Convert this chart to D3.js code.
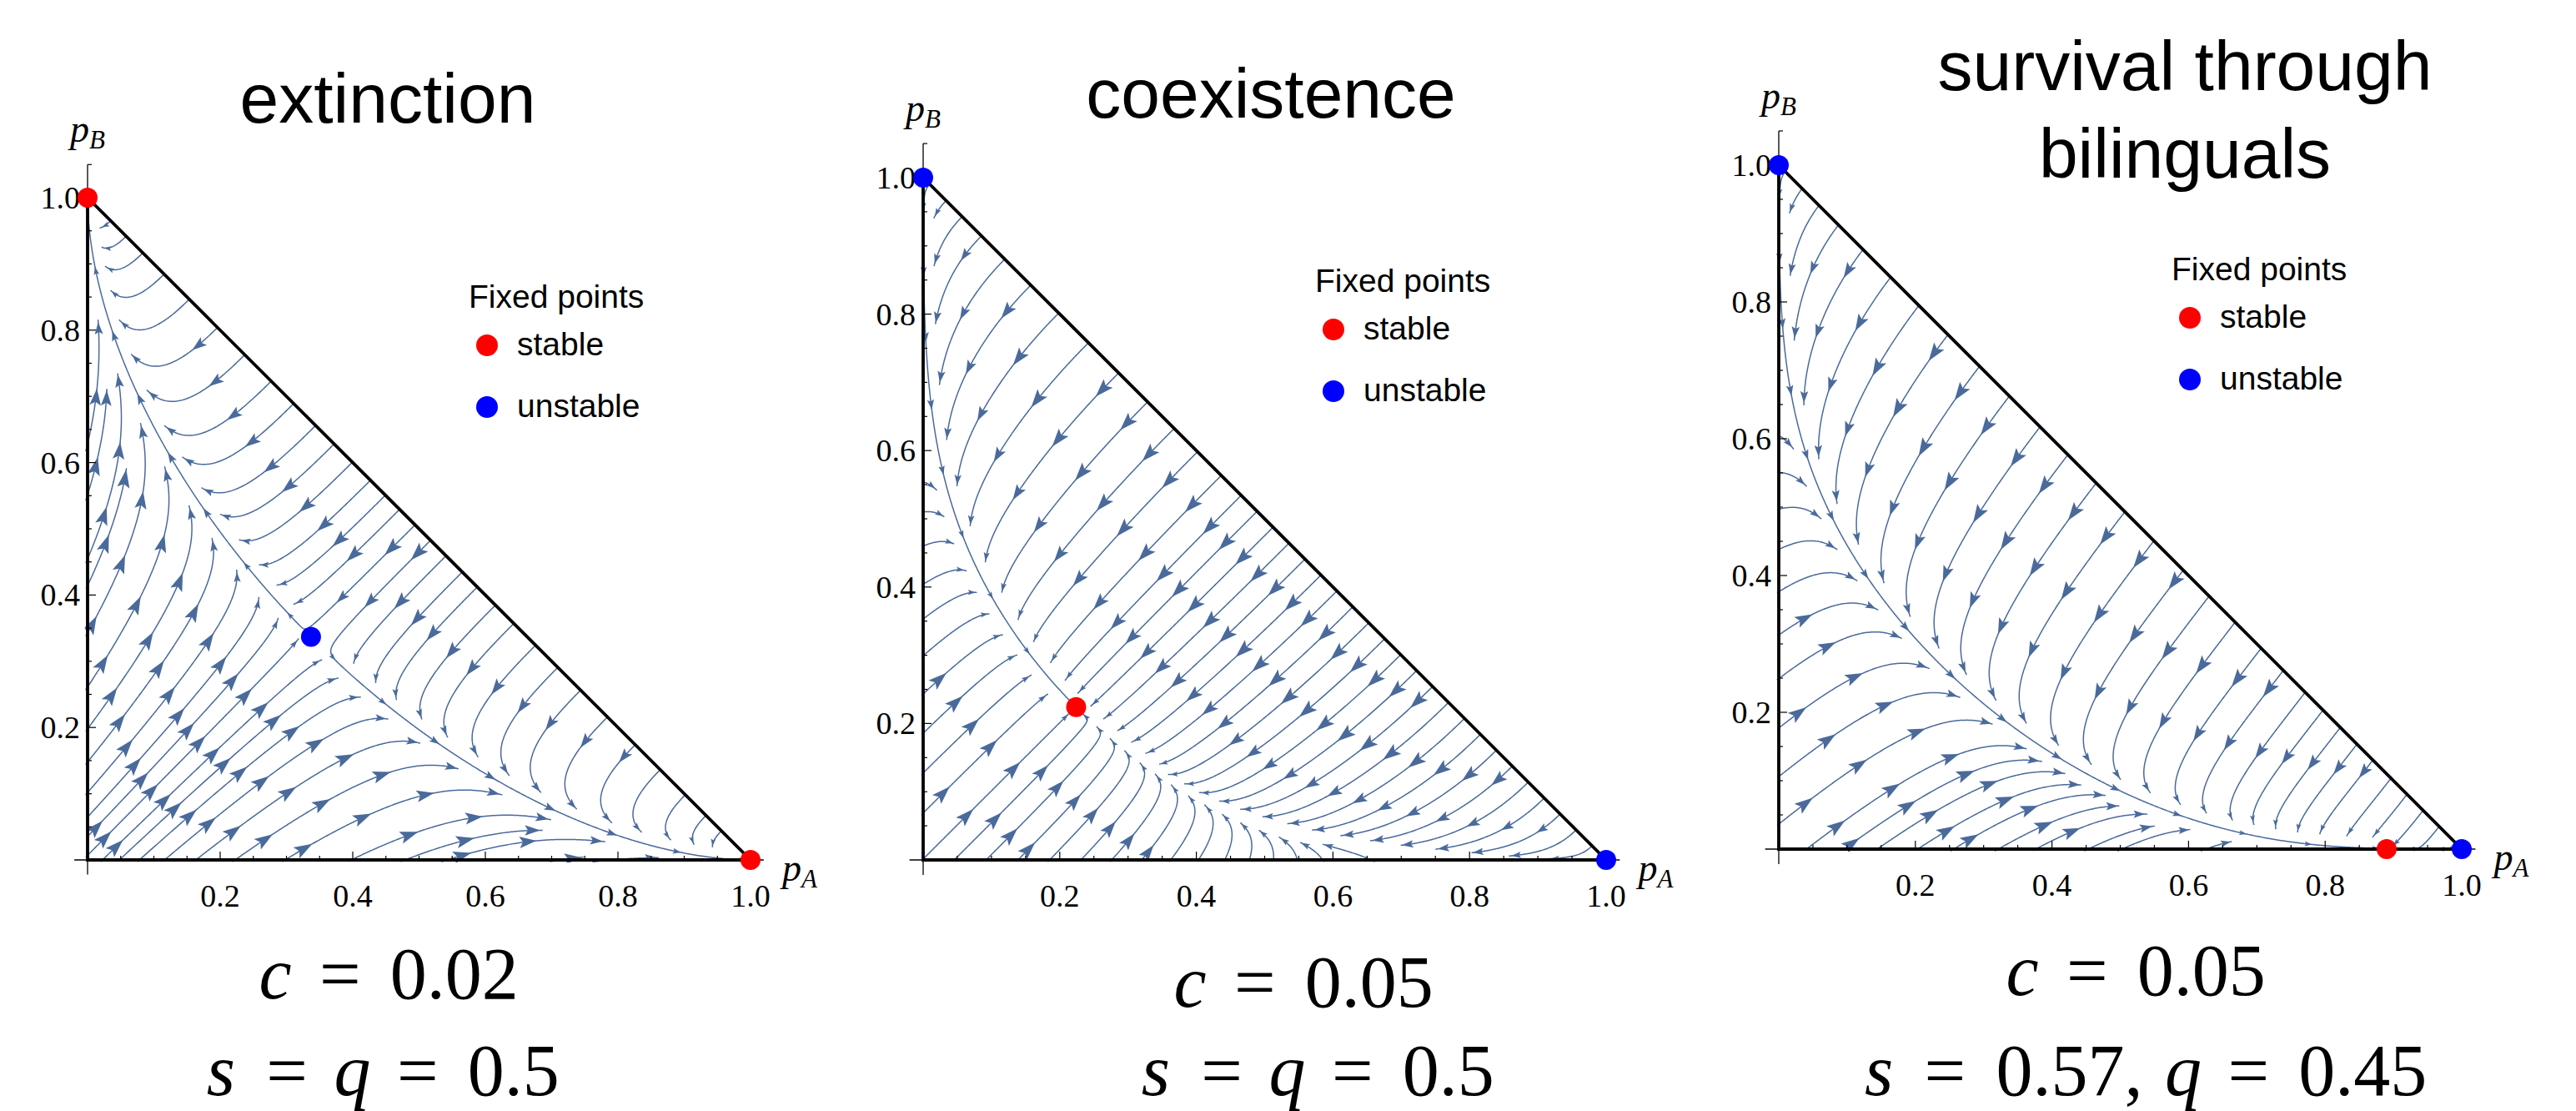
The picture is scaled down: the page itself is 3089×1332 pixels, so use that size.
<!DOCTYPE html>
<html>
<head>
<meta charset="utf-8">
<script src="https://cdn.jsdelivr.net/npm/d3@7"></script>
<style>
  body { margin: 0; background: #fff; }
  svg { display: block; }
</style>
</head>
<body>
<svg id="chart" width="3089" height="1332"></svg>
<script>
// ---- values ----
var panelTitles = [["extinction"], ["coexistence"], ["survival through", "bilinguals"]];
var cValues = [0.02, 0.05, 0.05];
var sValues = [0.5, 0.5, 0.57];
var qValues = [0.5, 0.5, 0.45];
var stablePoints = [[[0, 1], [1, 0]], [[0.224, 0.224]], [[0.89, 0]]];
var unstablePoints = [[[0.337, 0.337]], [[0, 1], [1, 0]], [[0, 1], [1, 0]]];
var tickValues = [0.2, 0.4, 0.6, 0.8, 1.0];
var legendTitle = "Fixed points";
var legendLabels = ["stable", "unstable"];

// ---- layout (pixels) ----
var boxes = [
  {x0: 105, x1: 900, y0: 1031, y1: 237, titleX: 465, titleY: [147], legX: 562, legY: 369,
   capX: [467, 458], capY: [1197, 1313]},
  {x0: 1107, x1: 1926, y0: 1031, y1: 213, titleX: 1524, titleY: [141], legX: 1577, legY: 350,
   capX: [1564, 1579], capY: [1207, 1313]},
  {x0: 2133, x1: 2952, y0: 1018, y1: 198, titleX: 2620, titleY: [108, 213], legX: 2604, legY: 336,
   capX: [2562, 2572], capY: [1193, 1313]}
];
var streamColor = "#4a6a9b";
var pointColors = {stable: "#ff0000", unstable: "#0000ff"};

// flow of (pA, pB); bilinguals are 1 - pA - pB.
// bilinguals drop a language at a rate set by its status and the square of its
// speaker share; monolinguals pick up the other one at a learning rate that grows
// with c and leans with q/s. constants tuned so the fixed points land where shown.
function learnRate(c) { return 33.8 * Math.pow(c, 1.19); }
function field(x, y, c, s, q) {
  var z = 1 - x - y;
  var r = q / s, w = learnRate(c);
  var wA = w * Math.pow(r, 1.7);
  var wB = w * Math.pow(r, 0.6);
  return [s * z * (x + z) * (x + z) - wA * x * (y + z),
          q * z * (y + z) * (y + z) - wB * y * (x + z)];
}

// evenly spaced streamlines (Jobard-Lefer) in pixel space
function buildStreams(b, c, s, q, unstable) {
  var kx = b.x1 - b.x0, ky = b.y0 - b.y1;
  var dsep = 0.033 * kx, dtest = 0.45 * dsep, h = 1.5, vmin = 2e-4;
  var cell = dsep, grid = new Map(), lines = [], queue = [];

  function toData(px, py) { return [(px - b.x0) / kx, (b.y0 - py) / ky]; }
  function vel(px, py) {
    var d = toData(px, py), f = field(d[0], d[1], c, s, q);
    return [f[0] * kx, -f[1] * ky, Math.hypot(f[0], f[1])];
  }
  function unit(px, py) {
    var v = vel(px, py), n = Math.hypot(v[0], v[1]);
    return n > 0 ? [v[0] / n, v[1] / n, v[2]] : [0, 0, 0];
  }
  function inside(px, py) {
    var d = toData(px, py);
    return d[0] >= -0.003 && d[1] >= -0.003 && d[0] + d[1] <= 1.003;
  }
  function key(i, j) { return i + "," + j; }
  function clear(px, py, r) {
    var ci = Math.floor(px / cell), cj = Math.floor(py / cell);
    for (var i = ci - 1; i <= ci + 1; i++) {
      for (var j = cj - 1; j <= cj + 1; j++) {
        var bin = grid.get(key(i, j));
        if (!bin) continue;
        for (var k = 0; k < bin.length; k++) {
          var dx = bin[k][0] - px, dy = bin[k][1] - py;
          if (dx * dx + dy * dy < r * r) return false;
        }
      }
    }
    return true;
  }
  function add(pts) {
    pts.forEach(function (p) {
      var k = key(Math.floor(p[0] / cell), Math.floor(p[1] / cell));
      if (!grid.has(k)) grid.set(k, []);
      grid.get(k).push(p);
    });
  }
  function trace(x, y, dir) {
    var out = [], last = null;
    for (var n = 0; n < 2500; n++) {
      var a = unit(x, y);
      if (a[2] < vmin) break;
      var m = unit(x + dir * a[0] * h / 2, y + dir * a[1] * h / 2);
      if (m[2] < vmin) break;
      if (last && last[0] * m[0] + last[1] * m[1] < 0.3) break;
      var nx = x + dir * m[0] * h, ny = y + dir * m[1] * h;
      if (!inside(nx, ny) || !clear(nx, ny, dtest)) break;
      out.push([nx, ny, m[2]]);
      last = m; x = nx; y = ny;
    }
    return out;
  }
  function tryLine(px, py) {
    if (!inside(px, py) || !clear(px, py, dsep * 0.98)) return;
    var v = vel(px, py);
    if (v[2] < vmin) return;
    var back = trace(px, py, -1), fwd = trace(px, py, 1);
    var pts = back.reverse().concat([[px, py, v[2]]], fwd);
    if (pts.length * h < 12) return;
    lines.push(pts); add(pts); queue.push(pts);
  }
  function drain() {
    while (queue.length) {
      var pts = queue.shift();
      for (var k = 0; k < pts.length; k += 4) {
        var p0 = pts[Math.max(0, k - 1)], p1 = pts[Math.min(pts.length - 1, k + 1)];
        var tx = p1[0] - p0[0], ty = p1[1] - p0[1], tn = Math.hypot(tx, ty) || 1;
        var nx = -ty / tn, ny = tx / tn;
        tryLine(pts[k][0] + nx * dsep, pts[k][1] + ny * dsep);
        tryLine(pts[k][0] - nx * dsep, pts[k][1] - ny * dsep);
      }
    }
  }

  // start on the unstable directions so the separatrices come out long
  var seeds = [];
  unstable.forEach(function (u) {
    var corner = u[0] >= 0.999 || u[1] >= 0.999;
    var offs = corner ? [[0.02 * (1 / 3 - u[0]), 0.02 * (1 / 3 - u[1])]] : [[-0.015, 0.015], [0.015, -0.015]];
    offs.forEach(function (o) {
      seeds.push([b.x0 + (u[0] + o[0]) * kx, b.y0 - (u[1] + o[1]) * ky]);
    });
  });
  for (var py = b.y1 + dsep / 2; py < b.y0; py += dsep) {
    for (var px = b.x0 + dsep / 2; px < b.x1; px += dsep) seeds.push([px, py]);
  }
  seeds.forEach(function (sd) { tryLine(sd[0], sd[1]); drain(); });

  // reference speed for arrow size
  var sp = [];
  for (var i = 1; i < 30; i++) for (var j = 1; j < 30 - i; j++) {
    var f = field(i / 30, j / 30, c, s, q);
    sp.push(Math.hypot(f[0], f[1]));
  }
  sp.sort(d3.ascending);
  var vref = d3.quantile(sp, 0.55);

  var arrows = [], gap = 80;
  lines.forEach(function (pts) {
    var cum = [0];
    for (var k = 1; k < pts.length; k++) cum.push(cum[k - 1] + Math.hypot(pts[k][0] - pts[k - 1][0], pts[k][1] - pts[k - 1][1]));
    var L = cum[cum.length - 1];
    for (var t = L - 3; t > Math.min(25, L * 0.6); t -= gap) {
      var idx = d3.bisectLeft(cum, t);
      idx = Math.max(2, Math.min(pts.length - 1, idx));
      var a = pts[idx - 2], e = pts[idx];
      var ang = Math.atan2(e[1] - a[1], e[0] - a[0]) * 180 / Math.PI;
      var fsz = Math.max(0.4, Math.min(1, Math.sqrt(e[2] / vref)));
      arrows.push({x: e[0], y: e[1], ang: ang, f: fsz});
    }
  });
  return {lines: lines, arrows: arrows};
}

// math-style caption: tokens with TeX-like advance widths (em)
function captionTokens(kind, i) {
  var c = cValues[i], s = sValues[i], q = qValues[i];
  var eq = {t: "=", w: 0.778 + 0.556};
  function num(v, tail) {
    var str = String(v) + (tail || "");
    var w = 0;
    for (var k = 0; k < str.length; k++) w += /[0-9]/.test(str[k]) ? 0.5 : 0.278;
    return {t: str, w: w};
  }
  if (kind === 0) return [{t: "c", it: true, w: 0.433}, eq, num(c)];
  if (s === q) return [{t: "s", it: true, w: 0.469}, eq, {t: "q", it: true, w: 0.446}, eq, num(s)];
  return [{t: "s", it: true, w: 0.469}, eq, num(s, ","), {t: "", w: 0.3},
          {t: "q", it: true, w: 0.446}, eq, num(q)];
}

var svg = d3.select("#chart");
var defs = svg.append("defs");
var serif = "'Liberation Serif', 'DejaVu Serif', serif";
var sans = "'Liberation Sans', Arimo, 'DejaVu Sans', sans-serif";

boxes.forEach(function (b, i) {
  var sx = d3.scaleLinear().domain([0, 1]).range([b.x0, b.x1]);
  var sy = d3.scaleLinear().domain([0, 1]).range([b.y0, b.y1]);
  var g = svg.append("g");

  defs.append("clipPath").attr("id", "tri" + i).append("path")
    .attr("d", "M" + sx(-0.004) + "," + sy(-0.004) + "L" + sx(1.012) + "," + sy(-0.004) +
               "L" + sx(-0.004) + "," + sy(1.012) + "Z");

  var res = buildStreams(b, cValues[i], sValues[i], qValues[i], unstablePoints[i]);
  var sg = g.append("g").attr("clip-path", "url(#tri" + i + ")");
  sg.selectAll("path.stream").data(res.lines).join("path")
    .attr("class", "stream")
    .attr("d", d3.line().x(function (p) { return p[0]; }).y(function (p) { return p[1]; }))
    .attr("fill", "none").attr("stroke", streamColor).attr("stroke-width", 1.5);
  sg.selectAll("path.head").data(res.arrows).join("path")
    .attr("class", "head")
    .attr("d", function (a) {
      var L = 22 * a.f, W = 15 * a.f;
      return "M0,0L" + (-L) + "," + (W / 2) + "L" + (-0.8 * L) + ",0L" + (-L) + "," + (-W / 2) + "Z";
    })
    .attr("transform", function (a) { return "translate(" + a.x + "," + a.y + ") rotate(" + a.ang + ")"; })
    .attr("fill", streamColor);

  // thin axes with inward ticks
  g.append("line").attr("x1", sx(-0.02)).attr("x2", sx(1.02)).attr("y1", sy(0)).attr("y2", sy(0))
    .attr("stroke", "#000").attr("stroke-width", 1.3);
  g.append("line").attr("x1", sx(0)).attr("x2", sx(0)).attr("y1", sy(-0.022)).attr("y2", sy(1.05))
    .attr("stroke", "#000").attr("stroke-width", 1.3);
  d3.range(1, 22).forEach(function (k) {
    var v = k * 0.05, len = k % 4 === 0 ? 10 : 5;
    g.append("line").attr("x1", sx(0)).attr("x2", sx(0) + len).attr("y1", sy(v)).attr("y2", sy(v))
      .attr("stroke", "#000").attr("stroke-width", 1.2);
    if (k <= 20) {
      g.append("line").attr("x1", sx(v)).attr("x2", sx(v)).attr("y1", sy(0)).attr("y2", sy(0) - len)
        .attr("stroke", "#000").attr("stroke-width", 1.2);
    }
  });
  tickValues.forEach(function (v) {
    g.append("text").attr("x", sx(0) - 9).attr("y", sy(v) + 13).attr("text-anchor", "end")
      .attr("font-family", serif).attr("font-size", 38).text(d3.format(".1f")(v));
    g.append("text").attr("x", sx(v)).attr("y", sy(0) + 56).attr("text-anchor", "middle")
      .attr("font-family", serif).attr("font-size", 38).text(d3.format(".1f")(v));
  });

  // triangle boundary
  g.append("path")
    .attr("d", "M" + sx(0) + "," + sy(1) + "L" + sx(0) + "," + sy(0) + "L" + sx(1) + "," + sy(0) + "Z")
    .attr("fill", "none").attr("stroke", "#000").attr("stroke-width", 3.8).attr("stroke-linejoin", "miter");

  // axis names
  var pa = g.append("text").attr("x", sx(1.02) + 22).attr("y", sy(0) + 25)
    .attr("font-family", serif).attr("font-style", "italic").attr("font-size", 46);
  pa.append("tspan").text("p");
  pa.append("tspan").attr("font-size", 31).attr("dy", 8).text("A");
  var pb = g.append("text").attr("x", sx(0) - 21).attr("y", sy(1.05) - 27)
    .attr("font-family", serif).attr("font-style", "italic").attr("font-size", 46);
  pb.append("tspan").text("p");
  pb.append("tspan").attr("font-size", 31).attr("dy", 8).text("B");

  // fixed points
  stablePoints[i].forEach(function (p) {
    g.append("circle").attr("cx", sx(p[0])).attr("cy", sy(p[1])).attr("r", 12).attr("fill", pointColors.stable);
  });
  unstablePoints[i].forEach(function (p) {
    g.append("circle").attr("cx", sx(p[0])).attr("cy", sy(p[1])).attr("r", 12).attr("fill", pointColors.unstable);
  });

  // title
  panelTitles[i].forEach(function (t, k) {
    g.append("text").attr("x", b.titleX).attr("y", b.titleY[k]).attr("text-anchor", "middle")
      .attr("font-family", sans).attr("font-size", 84).text(t);
  });

  // legend
  g.append("text").attr("x", b.legX).attr("y", b.legY).attr("font-family", sans).attr("font-size", 39)
    .text(legendTitle);
  legendLabels.forEach(function (lab, k) {
    var dy = k === 0 ? 45 : 119;
    g.append("circle").attr("cx", b.legX + 22).attr("cy", b.legY + dy).attr("r", 13)
      .attr("fill", k === 0 ? pointColors.stable : pointColors.unstable);
    g.append("text").attr("x", b.legX + 58).attr("y", b.legY + dy + 12).attr("font-family", sans)
      .attr("font-size", 39).text(lab);
  });

  // parameter captions
  [0, 1].forEach(function (kind) {
    var toks = captionTokens(kind, i), em = 88;
    var total = d3.sum(toks, function (t) { return t.w; }) * em;
    var x = b.capX[kind] - total / 2;
    toks.forEach(function (t) {
      if (t.t) {
        g.append("text").attr("x", x + t.w * em / 2).attr("y", b.capY[kind]).attr("text-anchor", "middle")
          .attr("font-family", serif).attr("font-size", em)
          .attr("font-style", t.it ? "italic" : "normal").text(t.t);
      }
      x += t.w * em;
    });
  });
});
</script>
</body>
</html>
